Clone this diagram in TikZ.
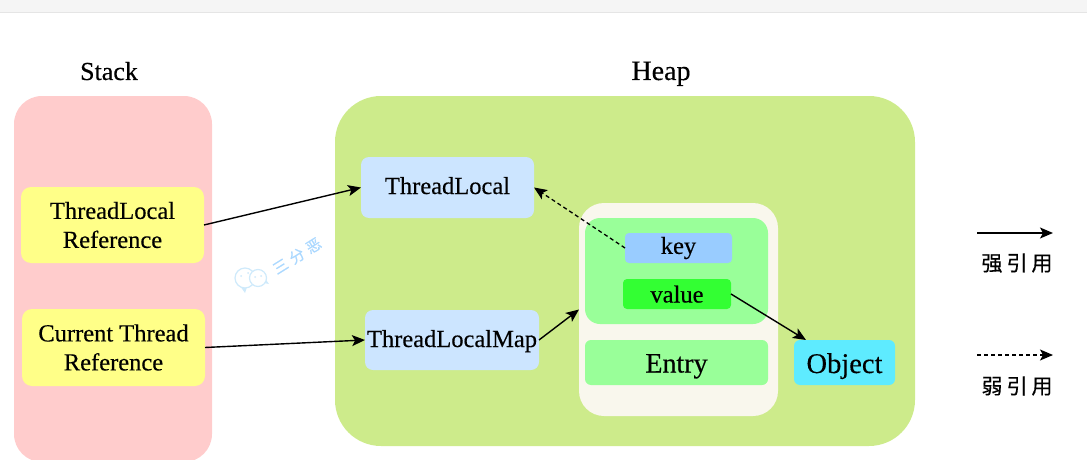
\documentclass[tikz,border=0pt]{standalone}
\usepackage{fontspec}
\setmainfont{Liberation Serif}[FakeBold=0.35]
\newfontfamily\cjk{Noto Sans CJK SC}[FakeBold=0.3]
\newfontfamily\cjkstamp{Noto Sans CJK SC}[FakeBold=0.6,LetterSpace=30]
\usetikzlibrary{arrows.meta,calc}
\tikzset{
  panel/.style={rounded corners=#1, inner sep=0pt, outer sep=0pt},
  panel/.default=8pt,
  solidlink/.style={draw=black, line width=1.4pt, -{Stealth[length=13pt,width=11pt,inset=3pt]}},
  weaklink/.style={draw=black, line width=1.3pt, dash pattern=on 4pt off 3pt, -{Stealth[length=13pt,width=11pt,inset=3pt]}},
  legendtext/.style={font=\cjk\fontsize{21}{24}\selectfont, text=black},
  title/.style={font=\fontsize{26}{28}\selectfont, text=black, anchor=base},
  boxtext/.style={align=center, font=\fontsize{24.5}{29}\selectfont, text=black},
}
\newcommand{\boxnode}[8]{% name, x0, y0, x1, y1, radius, colour, text
  \node[panel=#6, fill=#7, minimum width=#4pt-#2pt, minimum height=#5pt-#3pt, anchor=center, boxtext]
    (#1) at ({(#2+#4)/2},{(#3+#5)/2}) {#8};
}
% one line of text with its baseline a given distance below the box centre
\newcommand{\dropline}[2]{\raisebox{-#1pt}[0pt][0pt]{#2}}
\definecolor{stackpink}{HTML}{FFCCCC}
\definecolor{heapgreen}{HTML}{CDEB8B}
\definecolor{refyellow}{HTML}{FFFF88}
\definecolor{localblue}{HTML}{CCE5FF}
\definecolor{entrybeige}{HTML}{F9F7ED}
\definecolor{entrygreen}{HTML}{99FF99}
\definecolor{keyblue}{HTML}{99CCFF}
\definecolor{valuegreen}{HTML}{33FF33}
\definecolor{objectcyan}{HTML}{5EEBFF}
\definecolor{stampline}{HTML}{CFEAFB}
\definecolor{stampink}{HTML}{ABD8FF}
\begin{document}
\begin{tikzpicture}[x=1pt,y=-1pt]
  \useasboundingbox (0,0) rectangle (1087,460);
  \clip (0,0) rectangle (1087,460);
  % page strip along the top edge
  \fill[black!4] (0,0) rectangle (1087,12);
  \draw[black!10, line width=0.6pt] (0,12.5) -- (1087,12.5);

  % memory regions
  \boxnode{stack}{14}{96}{212}{462}{28pt}{stackpink}{}
  \boxnode{heap}{335}{96}{915}{446}{46pt}{heapgreen}{}
  \node[title] (stacktitle) at (109,80) {Stack};
  \node[title, font=\fontsize{28}{30}\selectfont] (heaptitle) at (661,80) {Heap};

  % stack references
  \boxnode{tlref}{21}{187}{204}{263}{10pt}{refyellow}{ThreadLocal\\Reference}
  \boxnode{ctref}{22}{309}{205}{386}{10pt}{refyellow}{Current Thread\\Reference}

  % heap contents
  \boxnode{tl}{361}{157}{534}{218}{8pt}{localblue}{\dropline{6.5}{ThreadLocal}}
  \boxnode{tlm}{365}{310}{539}{370}{8pt}{localblue}{\dropline{7}{ThreadLocalMap}}
  \boxnode{entryouter}{579}{203}{778}{416}{25pt}{entrybeige}{}
  \boxnode{entryinner}{585}{218}{768}{324}{15pt}{entrygreen}{}
  \boxnode{key}{625}{233}{732}{263}{4pt}{keyblue}{key}
  \boxnode{value}{623}{279}{731}{309}{4pt}{valuegreen}{\dropline{8.5}{value}}
  \boxnode{entry}{585}{340}{768}{385}{6pt}{entrygreen}{\fontsize{28}{30}\selectfont\dropline{10}{Entry}}
  \boxnode{object}{794}{340}{895}{385}{6pt}{objectcyan}{\fontsize{28.5}{30}\selectfont\dropline{10.5}{Object}}

  % references
  \draw[solidlink] (tlref.east) -- (tl.west);
  \draw[solidlink] (ctref.east) -- (tlm.west);
  \draw[solidlink] (tlm.east) -- (entryouter.west);
  \draw[weaklink] (key.west) -- (tl.east);
  \draw[solidlink] (value.east) -- ($(object.north west)+(12,0)$);

  % legend
  \coordinate (strongfrom) at (977,233);
  \coordinate (strongto) at (1053,233);
  \coordinate (weakfrom) at (977,355);
  \coordinate (weakto) at (1053,355);
  \draw[solidlink] (strongfrom) -- (strongto);
  \draw[weaklink] (weakfrom) -- (weakto);
  \node[legendtext] (stronglabel) at (1017,263) {强\hspace{4pt}引\hspace{4pt}用};
  \node[legendtext] (weaklabel) at (1017,386) {弱\hspace{4pt}引\hspace{4pt}用};

  % stamp between the regions: twin chat bubbles and a slanted name
  \fill[stampline] (240,286) -- (245,293) -- (247,287) -- cycle;
  \fill[stampline] (264,283) -- (269,284) -- (264,277) -- cycle;
  \draw[stampline, line width=1.2pt, fill=white] (245,278) circle (10pt);
  \draw[stampline, line width=1.2pt, fill=white] (258,278) circle (8.5pt);
  \fill[stampline] (241,276) circle (1pt) (248,273) circle (1pt) (255,277) circle (1pt) (261,276) circle (1pt);
  \node[rotate=32, text=stampink, font=\cjkstamp\fontsize{15}{16}\selectfont, inner sep=0pt] (stampmark) at (297,256) {三分恶};
\end{tikzpicture}
\end{document}
